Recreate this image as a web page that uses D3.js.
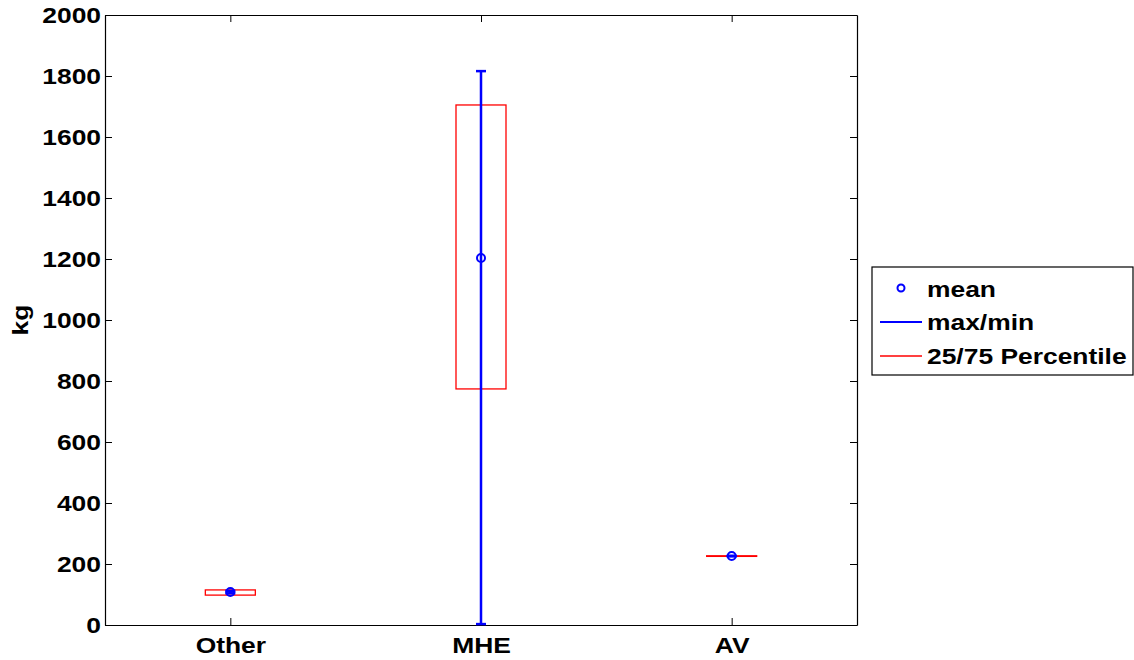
<!DOCTYPE html>
<html><head><meta charset="utf-8">
<script src="https://cdn.jsdelivr.net/npm/d3@7"></script>
<style>body{margin:0;background:#fff}svg{display:block}text{font-family:"Liberation Sans",Arial,sans-serif;font-weight:bold}</style>
</head><body><svg id="c" width="1134" height="660"></svg>
<script>
const categories = ["Other", "MHE", "AV"];
const meanValues = [108, 1203, 226];
const maxValues = [112, 1816, 227];
const minValues = [104, 3, 225];
const p25Values = [98, 774, 225];
const p75Values = [115, 1705, 227];
const yTicks = [0, 200, 400, 600, 800, 1000, 1200, 1400, 1600, 1800, 2000];
const legendLabels = ["mean", "max/min", "25/75 Percentile"];

const svg = d3.select("#c");
const L = 105, R = 857, T = 15, B = 625;
const x = d3.scaleLinear().domain([0.5, 3.5]).range([L, R]);
const y = d3.scaleLinear().domain([0, 2000]).range([B, T]);
const fs = 22;

const gl = svg.append("g").attr("transform", `translate(${L},0)`)
  .call(d3.axisLeft(y).tickValues(yTicks).tickFormat(d3.format("d")).tickSizeInner(-7).tickSizeOuter(0).tickPadding(4));
const gr = svg.append("g").attr("transform", `translate(${R},0)`)
  .call(d3.axisRight(y).tickValues(yTicks).tickSizeInner(-7).tickSizeOuter(0).tickFormat(""));
const gb = svg.append("g").attr("transform", `translate(0,${B})`)
  .call(d3.axisBottom(x).tickValues([1,2,3]).tickFormat((d,i)=>categories[i]).tickSizeInner(-7).tickSizeOuter(0).tickPadding(12));
const gt = svg.append("g").attr("transform", `translate(0,${T})`)
  .call(d3.axisTop(x).tickValues([1,2,3]).tickSizeInner(-7).tickSizeOuter(0).tickFormat(""));
[gl,gr,gb,gt].forEach(g=>{
  g.selectAll("path.domain").attr("stroke","#000").attr("stroke-width",1.2);
  g.selectAll(".tick line").attr("stroke","#000").attr("stroke-width",1);
  g.selectAll("text").attr("fill","#000").attr("font-size",fs).attr("font-family",'"Liberation Sans",Arial,sans-serif').attr("font-weight","bold");
});
gl.selectAll("text").attr("dy","0.35em");

svg.append("text").attr("transform",`translate(20,${(T+B)/2}) rotate(-90)`)
  .attr("text-anchor","middle").attr("dy","0.35em").attr("font-size",fs).text("kg");

const idx = d3.range(categories.length);
const bw = 50;
svg.append("g").selectAll("rect").data(idx).join("rect")
  .attr("x", i => x(i+1) - bw/2).attr("width", bw)
  .attr("y", i => y(p75Values[i])).attr("height", i => Math.max(0.01, y(p25Values[i]) - y(p75Values[i])))
  .attr("fill","none").attr("stroke","#ff0000").attr("stroke-width",1.3);
const wg = svg.append("g").attr("stroke","#0000ff").attr("stroke-width",2.5);
wg.selectAll("line.v").data(idx).join("line").attr("class","v")
  .attr("x1", i=>x(i+1)).attr("x2", i=>x(i+1))
  .attr("y1", i=>y(maxValues[i])).attr("y2", i=>y(minValues[i]));
wg.selectAll("line.cmax").data(idx).join("line").attr("class","cmax")
  .attr("x1", i=>x(i+1)-5).attr("x2", i=>x(i+1)+5)
  .attr("y1", i=>y(maxValues[i])).attr("y2", i=>y(maxValues[i]));
wg.selectAll("line.cmin").data(idx).join("line").attr("class","cmin")
  .attr("x1", i=>x(i+1)-5).attr("x2", i=>x(i+1)+5)
  .attr("y1", i=>y(minValues[i])).attr("y2", i=>y(minValues[i]));
svg.append("g").selectAll("circle").data(idx).join("circle")
  .attr("cx", i=>x(i+1)).attr("cy", i=>y(meanValues[i])).attr("r",4)
  .attr("fill","none").attr("stroke","#0000ff").attr("stroke-width",2);

const lg = svg.append("g");
lg.append("rect").attr("x",872).attr("y",267).attr("width",261).attr("height",108)
  .attr("fill","#fff").attr("stroke","#000").attr("stroke-width",1.2);
const ly = [289, 322, 356];
lg.append("circle").attr("cx",901).attr("cy",ly[0]-1).attr("r",3.5).attr("fill","none").attr("stroke","#0000ff").attr("stroke-width",2);
lg.append("line").attr("x1",880).attr("x2",922).attr("y1",ly[1]).attr("y2",ly[1]).attr("stroke","#0000ff").attr("stroke-width",2);
lg.append("line").attr("x1",880).attr("x2",922).attr("y1",ly[2]).attr("y2",ly[2]).attr("stroke","#ff0000").attr("stroke-width",1.3);
lg.selectAll("text").data(legendLabels).join("text").attr("x",927).attr("y",(d,i)=>ly[i]).attr("dy","0.35em")
  .attr("font-size",fs).text(d=>d);

// horizontal stretch to mimic the wide original lettering
svg.selectAll("text").each(function(){
  const t = this.textContent;
  if (!t) return;
  const w = this.getComputedTextLength();
  if (w > 0) d3.select(this).attr("textLength", w*1.2).attr("lengthAdjust","spacingAndGlyphs");
});
</script></body></html>
